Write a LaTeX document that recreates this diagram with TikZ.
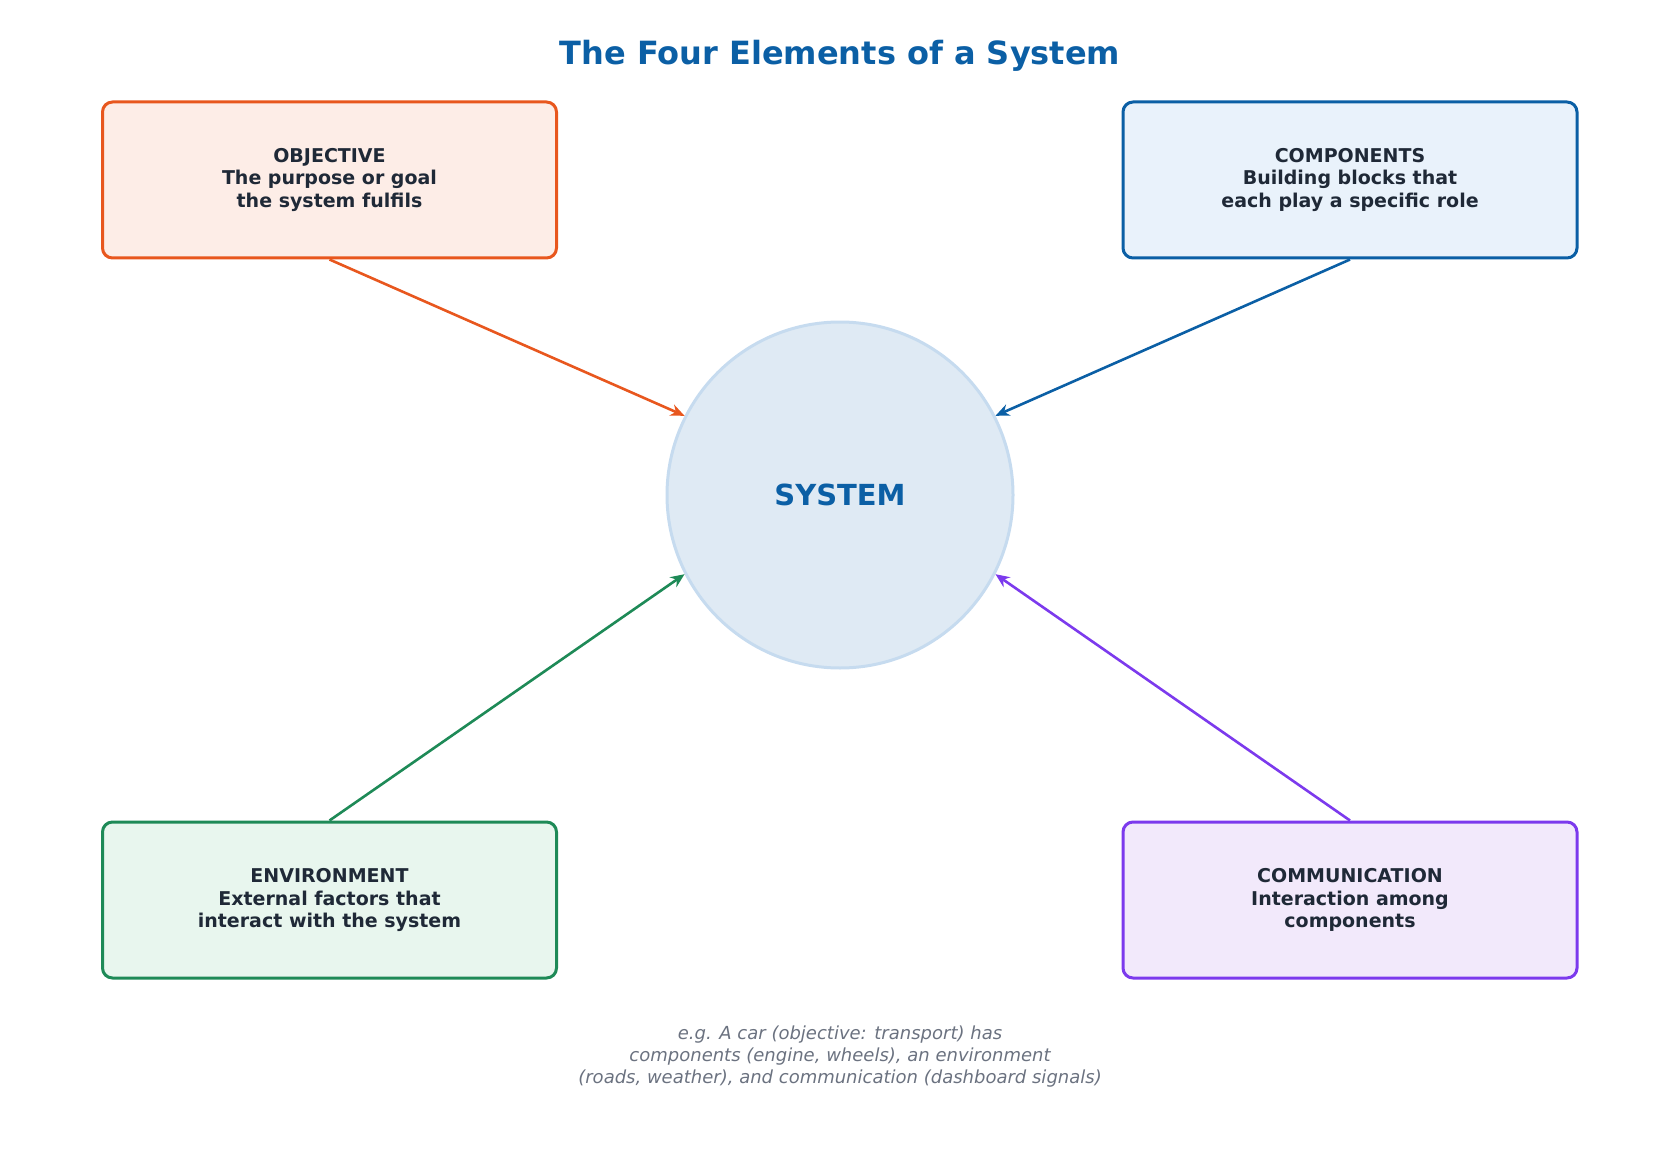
\documentclass[tikz,border=0pt]{standalone}
\usepackage{fontspec}
\setmainfont{DejaVu Sans}
\usetikzlibrary{arrows.meta}
\definecolor{org}{HTML}{E8571E}\definecolor{orgf}{HTML}{FDEDE7}
\definecolor{blu}{HTML}{0B5FA5}\definecolor{bluf}{HTML}{E9F2FB}
\definecolor{grn}{HTML}{1E8A57}\definecolor{grnf}{HTML}{E8F6EE}
\definecolor{pur}{HTML}{7C3AED}\definecolor{purf}{HTML}{F2E9FB}
\definecolor{txt}{HTML}{1F2937}\definecolor{cap}{HTML}{6B7280}
\definecolor{sysf}{HTML}{DFEAF4}\definecolor{syss}{HTML}{C6DBEF}
\begin{document}
\begin{tikzpicture}[x=0.5pt,y=-0.5pt,
 box/.style={draw=#1,fill=#1f,line width=1.5pt,rounded corners=5pt,minimum width=227pt,minimum height=78pt,align=center,text=txt,font=\fontsize{9.5pt}{11.3pt}\selectfont\bfseries},
 arr/.style={draw=#1,line width=1.3pt,-{Stealth[length=7pt,width=6pt]}}]
\useasboundingbox (0,0) rectangle (1680,1155);
\node[text=blu,font=\fontsize{16pt}{19pt}\selectfont\bfseries] (title) at (840,56) {The Four Elements of a System};
\node[circle,draw=syss,fill=sysf,line width=1.5pt,minimum size=346*0.5pt,inner sep=0pt,text=blu,font=\fontsize{14.5pt}{17pt}\selectfont\bfseries] (sys) at (840,495) {SYSTEM};
\node[box=org] (obj) at (329.5,180) {OBJECTIVE\\The purpose or goal\\the system fulfils};
\node[box=blu] (com) at (1350,180) {COMPONENTS\\Building blocks that\\each play a specific role};
\node[box=grn] (env) at (329.5,900) {ENVIRONMENT\\External factors that\\interact with the system};
\node[box=pur] (cmm) at (1350,900) {COMMUNICATION\\Interaction among\\components};
\draw[arr=org] (obj.south) -- (sys.153);
\draw[arr=blu] (com.south) -- (sys.27);
\draw[arr=grn] (env.north) -- (sys.207);
\draw[arr=pur] (cmm.north) -- (sys.333);
\node[text=cap,align=center,font=\fontsize{9pt}{11pt}\selectfont\itshape] (note) at (840,1057) {e.g. A car (objective: transport) has\\components (engine, wheels), an environment\\(roads, weather), and communication (dashboard signals)};
\end{tikzpicture}
\end{document}
